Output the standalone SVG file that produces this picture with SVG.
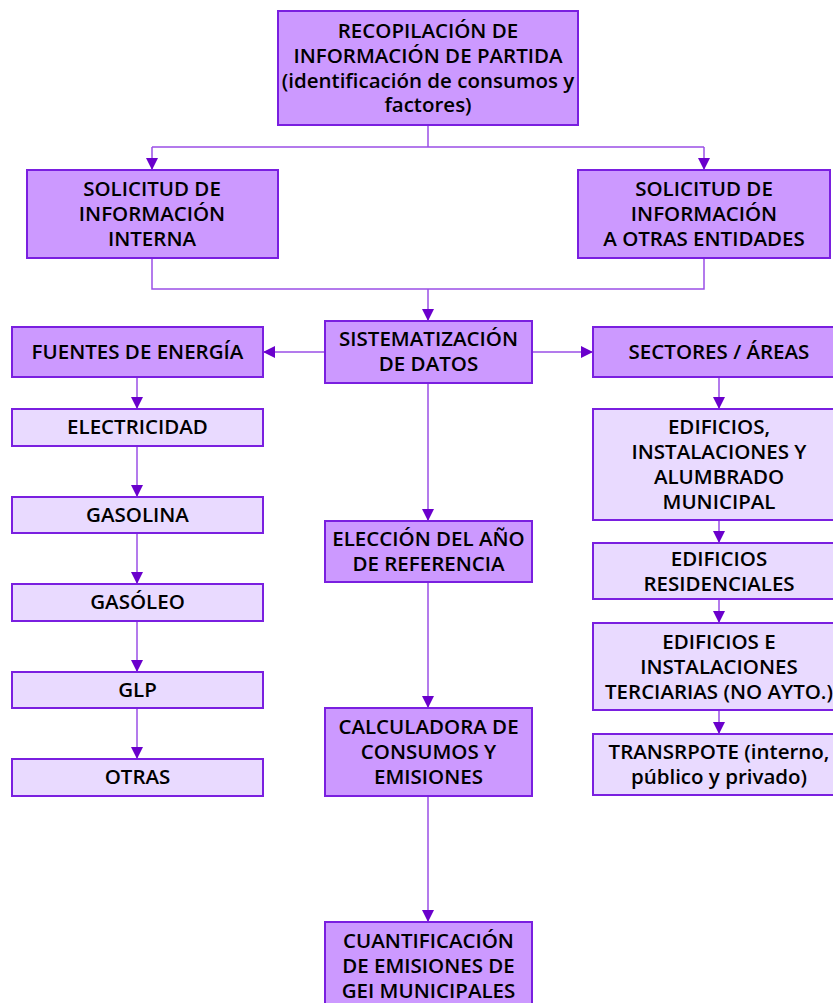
<svg xmlns="http://www.w3.org/2000/svg" width="833" height="1003" viewBox="0 0 833 1003">
<style>
.d{fill:#CC99FF;stroke:#7A1FE0;stroke-width:2}
.l{fill:#E9DAFF;stroke:#7A1FE0;stroke-width:2}
text{font-family:"Open Sans","Liberation Sans",sans-serif;font-weight:600;font-size:20.5px;fill:#000;text-anchor:middle}
.c{fill:none;stroke:#9A4FE6;stroke-width:1.5}
</style>
<defs>
<marker id="a" markerUnits="userSpaceOnUse" markerWidth="12" markerHeight="12" viewBox="0 0 12 12" refX="12" refY="6" orient="auto">
<path d="M0,0 L12,6 L0,12 Z" fill="#6A00CC"/>
</marker>
</defs>
<rect width="833" height="1003" fill="#fff"/>
<g id="connectors">
<path class="c" d="M428 125 V147 M152 147 H704"/>
<path class="c" d="M152 147 V170" marker-end="url(#a)"/>
<path class="c" d="M704 147 V170" marker-end="url(#a)"/>
<path class="c" d="M152 258 V289 H704 V258"/>
<path class="c" d="M428 289 V321" marker-end="url(#a)"/>
<path class="c" d="M325 352 H263" marker-end="url(#a)"/>
<path class="c" d="M532 352 H593" marker-end="url(#a)"/>
<path class="c" d="M428 383 V521" marker-end="url(#a)"/>
<path class="c" d="M428 582 V708" marker-end="url(#a)"/>
<path class="c" d="M428 796 V922" marker-end="url(#a)"/>
<path class="c" d="M137 377 V409" marker-end="url(#a)"/>
<path class="c" d="M137 446 V497" marker-end="url(#a)"/>
<path class="c" d="M137 533 V584" marker-end="url(#a)"/>
<path class="c" d="M137 621 V672" marker-end="url(#a)"/>
<path class="c" d="M137 708 V759" marker-end="url(#a)"/>
<path class="c" d="M719 377 V409" marker-end="url(#a)"/>
<path class="c" d="M719 520 V543" marker-end="url(#a)"/>
<path class="c" d="M719 599 V623" marker-end="url(#a)"/>
<path class="c" d="M719 710 V734" marker-end="url(#a)"/>
</g>
<g id="recopilacion">
<rect class="d" x="278" y="11" width="300" height="114"/>
<text x="428" y="38">RECOPILACIÓN DE</text>
<text x="428" y="63">INFORMACIÓN DE PARTIDA</text>
<text x="428" y="88">(identificación de consumos y</text>
<text x="428" y="112">factores)</text>
</g>
<g id="sol-interna">
<rect class="d" x="27" y="170" width="251" height="88"/>
<text x="152" y="196">SOLICITUD DE</text>
<text x="152" y="221">INFORMACIÓN</text>
<text x="152" y="246">INTERNA</text>
</g>
<g id="sol-otras">
<rect class="d" x="578" y="170" width="252" height="88"/>
<text x="704" y="196">SOLICITUD DE</text>
<text x="704" y="221">INFORMACIÓN</text>
<text x="704" y="246">A OTRAS ENTIDADES</text>
</g>
<g id="sistematizacion">
<rect class="d" x="325" y="321" width="207" height="62"/>
<text x="428.5" y="346">SISTEMATIZACIÓN</text>
<text x="428.5" y="371">DE DATOS</text>
</g>
<g id="fuentes">
<rect class="d" x="12" y="327" width="251" height="50"/>
<text x="137.5" y="359">FUENTES DE ENERGÍA</text>
</g>
<g id="sectores">
<rect class="d" x="593" y="327" width="252" height="50"/>
<text x="719" y="359">SECTORES / ÁREAS</text>
</g>
<g id="electricidad">
<rect class="l" x="12" y="409" width="251" height="37"/>
<text x="137.5" y="434">ELECTRICIDAD</text>
</g>
<g id="gasolina">
<rect class="l" x="12" y="497" width="251" height="36"/>
<text x="137.5" y="522">GASOLINA</text>
</g>
<g id="gasoleo">
<rect class="l" x="12" y="584" width="251" height="37"/>
<text x="137.5" y="609">GASÓLEO</text>
</g>
<g id="glp">
<rect class="l" x="12" y="672" width="251" height="36"/>
<text x="137.5" y="697">GLP</text>
</g>
<g id="otras">
<rect class="l" x="12" y="759" width="251" height="37"/>
<text x="137.5" y="784">OTRAS</text>
</g>
<g id="eleccion">
<rect class="d" x="325" y="521" width="207" height="61"/>
<text x="428.5" y="546">ELECCIÓN DEL AÑO</text>
<text x="428.5" y="571">DE REFERENCIA</text>
</g>
<g id="calculadora">
<rect class="d" x="325" y="708" width="207" height="88"/>
<text x="428.5" y="734">CALCULADORA DE</text>
<text x="428.5" y="759">CONSUMOS Y</text>
<text x="428.5" y="784">EMISIONES</text>
</g>
<g id="cuantificacion">
<rect class="d" x="325" y="922" width="207" height="90"/>
<text x="428.5" y="948">CUANTIFICACIÓN</text>
<text x="428.5" y="973">DE EMISIONES DE</text>
<text x="428.5" y="998">GEI MUNICIPALES</text>
</g>
<g id="edificios-municipal">
<rect class="l" x="593" y="409" width="252" height="111"/>
<text x="719" y="434">EDIFICIOS,</text>
<text x="719" y="459">INSTALACIONES Y</text>
<text x="719" y="484">ALUMBRADO</text>
<text x="719" y="509">MUNICIPAL</text>
</g>
<g id="residenciales">
<rect class="l" x="593" y="543" width="252" height="56"/>
<text x="719" y="566">EDIFICIOS</text>
<text x="719" y="591">RESIDENCIALES</text>
</g>
<g id="terciarias">
<rect class="l" x="593" y="623" width="252" height="87"/>
<text x="719" y="649">EDIFICIOS E</text>
<text x="719" y="674">INSTALACIONES</text>
<text x="719" y="699">TERCIARIAS (NO AYTO.)</text>
</g>
<g id="transporte">
<rect class="l" x="593" y="734" width="252" height="61"/>
<text x="719" y="759">TRANSRPOTE (interno,</text>
<text x="719" y="784">público y privado)</text>
</g>
</svg>
